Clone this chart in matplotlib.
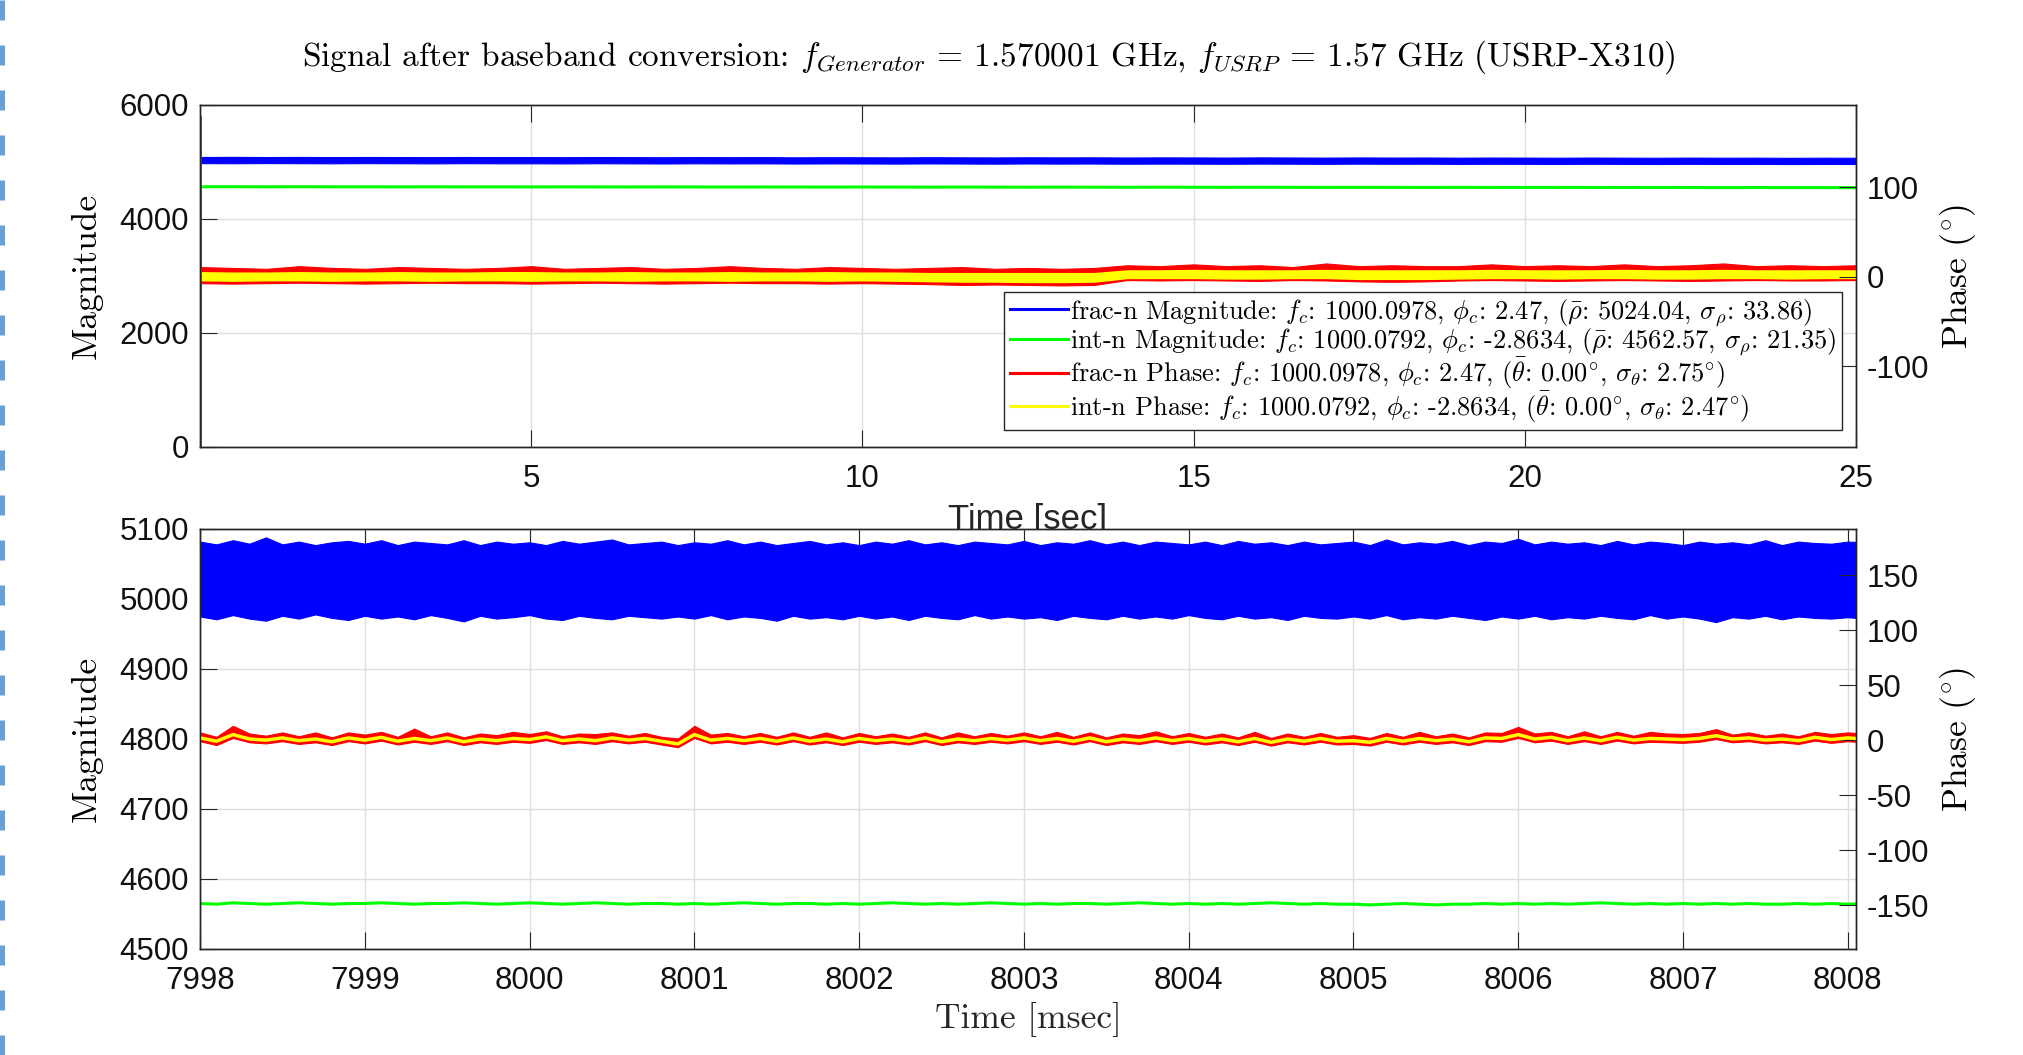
import numpy as np
import matplotlib
matplotlib.use('Agg')
import matplotlib.pyplot as plt
from matplotlib.lines import Line2D

plt.rcParams['mathtext.fontset'] = 'cm'
plt.rcParams['axes.unicode_minus'] = False
plt.rcParams['font.family'] = ['Liberation Sans', 'DejaVu Sans']

BLUE, GREEN, RED, YELLOW = '#0000ff', '#00ff00', '#ff0000', '#ffff00'
SERIF = 'cmr10'

# ---- top panel: 25 s overview, sampled every 0.5 s ----
t_top = np.arange(0, 25.01, 0.5)
blue_top_hi = [5088, 5090, 5087, 5089, 5086, 5088, 5087, 5085, 5088, 5086,
               5086, 5084, 5087, 5085, 5083, 5086, 5084, 5085, 5082, 5084,
               5083, 5081, 5084, 5082, 5080, 5083, 5081, 5082, 5079, 5081,
               5080, 5078, 5081, 5079, 5077, 5080, 5078, 5079, 5076, 5078,
               5077, 5075, 5078, 5076, 5074, 5077, 5075, 5076, 5073, 5075, 5074]
blue_top_lo = [4980, 4978, 4981, 4979, 4977, 4980, 4978, 4976, 4979, 4977,
               4977, 4975, 4978, 4976, 4974, 4977, 4975, 4976, 4973, 4975,
               4974, 4972, 4975, 4973, 4971, 4974, 4972, 4973, 4970, 4972,
               4971, 4969, 4972, 4970, 4968, 4971, 4969, 4970, 4967, 4969,
               4968, 4966, 4969, 4967, 4965, 4968, 4966, 4967, 4964, 4966, 4965]
green_top = [4566, 4566, 4565, 4566, 4565, 4565, 4564, 4565, 4564, 4564,
             4563, 4564, 4563, 4562, 4563, 4562, 4561, 4562, 4561, 4560,
             4561, 4560, 4559, 4560, 4559, 4558, 4559, 4558, 4557, 4558,
             4557, 4556, 4557, 4556, 4555, 4556, 4555, 4554, 4555, 4554,
             4553, 4554, 4553, 4552, 4553, 4552, 4551, 4552, 4551, 4551, 4550]
red_top_hi = [11, 10, 9, 12, 10, 9, 11, 10, 9, 10,
              12, 9, 10, 11, 9, 10, 12, 10, 9, 11,
              10, 9, 10, 11, 9, 10, 9, 10, 13, 12,
              14, 12, 13, 11, 15, 12, 13, 12, 12, 14,
              12, 13, 12, 14, 12, 13, 15, 12, 13, 12, 13]
red_top_lo = [-7, -7.5, -7, -6.5, -7, -7.5, -7, -6.5, -7, -7,
              -7.5, -7, -6.5, -7, -7.5, -7, -6.5, -7, -7, -7.5,
              -7, -7.5, -8, -9, -8.5, -9, -9.5, -9, -3.5, -4,
              -3.5, -4, -4.5, -3.5, -4, -5, -5.5, -5, -4, -3.5,
              -4, -4.5, -4, -3.5, -4, -4.5, -4, -3.5, -4, -4, -3.5]
yel_top_hi = [6, 5.5, 5.5, 6, 5.5, 5.5, 6, 5.5, 5.5, 6,
              6, 5.5, 5.5, 6, 5.5, 5.5, 6, 5.5, 5.5, 6,
              5.5, 5.5, 5, 5, 5, 5, 5, 5, 8, 8,
              8.5, 8, 8, 8, 8.5, 8, 8, 8, 8, 8.5,
              8, 8, 8, 8.5, 8, 8, 8.5, 8, 8, 8, 8]
yel_top_lo = [-4.5, -5, -4.5, -4.5, -5, -4.5, -4.5, -5, -4.5, -4.5,
              -5, -4.5, -4.5, -5, -4.5, -4.5, -5, -4.5, -4.5, -5,
              -4.5, -5, -5.5, -6, -6, -6.5, -6.5, -6, -2, -2,
              -2, -2.5, -2.5, -2, -2, -3, -3, -3, -2.5, -2,
              -2, -2.5, -2, -2, -2.5, -2.5, -2, -2, -2.5, -2, -2]
# start-up transient at t = 0
green_start = [0, 4566]
red_start = [179, -190]

# ---- bottom panel: 10 ms zoom, sampled every 0.1 ms ----
t_bot = 7998 + 0.1 * np.arange(102)
blue_bot_hi = [5082, 5078, 5084, 5079, 5088, 5078, 5082, 5077, 5081, 5083,
               5079, 5084, 5077, 5082, 5080, 5078, 5084, 5077, 5082, 5079,
               5081, 5077, 5083, 5079, 5082, 5085, 5078, 5080, 5082, 5077,
               5081, 5079, 5084, 5078, 5082, 5077, 5080, 5083, 5078, 5081,
               5077, 5082, 5079, 5084, 5078, 5081, 5077, 5082, 5080, 5078,
               5083, 5077, 5081, 5079, 5084, 5078, 5082, 5077, 5082, 5080,
               5078, 5082, 5077, 5083, 5079, 5081, 5077, 5082, 5078, 5080,
               5082, 5077, 5085, 5078, 5081, 5079, 5083, 5077, 5082, 5080,
               5086, 5078, 5082, 5079, 5081, 5077, 5083, 5078, 5082, 5080,
               5077, 5082, 5079, 5081, 5078, 5084, 5077, 5082, 5080, 5079,
               5082, 5081]
blue_bot_lo = [4975, 4971, 4977, 4972, 4969, 4976, 4972, 4978, 4973, 4970,
               4976, 4972, 4975, 4971, 4977, 4973, 4968, 4976, 4972, 4974,
               4977, 4972, 4970, 4976, 4973, 4971, 4976, 4974, 4972, 4975,
               4972, 4977, 4971, 4975, 4973, 4969, 4976, 4972, 4974, 4971,
               4976, 4972, 4975, 4970, 4976, 4973, 4971, 4977, 4972, 4975,
               4972, 4974, 4970, 4976, 4973, 4971, 4976, 4972, 4975, 4972,
               4977, 4973, 4971, 4976, 4972, 4974, 4970, 4976, 4973, 4972,
               4975, 4972, 4977, 4971, 4974, 4972, 4976, 4973, 4970, 4975,
               4972, 4976, 4971, 4974, 4972, 4976, 4973, 4971, 4977, 4972,
               4975, 4972, 4967, 4974, 4972, 4976, 4971, 4975, 4973, 4972,
               4974, 4972]
green_bot = [4565, 4564, 4566, 4565, 4564, 4565, 4566, 4565, 4564, 4565,
             4565, 4566, 4565, 4564, 4565, 4565, 4566, 4565, 4564, 4565,
             4566, 4565, 4564, 4565, 4566, 4565, 4564, 4565, 4565, 4564,
             4565, 4564, 4565, 4566, 4565, 4564, 4565, 4565, 4564, 4565,
             4564, 4565, 4566, 4565, 4564, 4565, 4564, 4565, 4566, 4565,
             4564, 4565, 4564, 4565, 4565, 4564, 4565, 4566, 4565, 4564,
             4565, 4564, 4565, 4564, 4565, 4566, 4565, 4564, 4565, 4564,
             4564, 4563, 4564, 4565, 4564, 4563, 4564, 4564, 4565, 4564,
             4565, 4564, 4565, 4564, 4565, 4566, 4565, 4564, 4565, 4564,
             4565, 4564, 4565, 4564, 4565, 4564, 4564, 4565, 4564, 4565,
             4564, 4565]
yel_bot = [2.0, -1.0, 5.0, 1.0, 0.0, 2.0, -0.5, 1.0, -1.5, 2.0,
           0.0, 2.5, -1.0, 1.5, -0.5, 2.0, -1.5, 1.0, -0.5, 1.5,
           0.5, 3.0, -0.5, 1.0, -0.5, 2.0, 0.0, 1.5, -1.0, -3.5,
           5.0, 0.0, 1.5, -0.5, 1.5, -1.0, 2.0, -1.0, 1.0, -1.5,
           1.5, -0.5, 1.0, -1.0, 2.0, -1.5, 1.0, -0.5, 1.5, 0.0,
           2.0, -0.5, 1.5, -1.0, 2.0, -1.5, 1.0, -0.5, 2.0, -0.5,
           1.5, -1.0, 1.0, -1.5, 1.5, -2.0, 1.0, -1.0, 1.5, -1.0,
           -0.5, -2.0, 1.5, -1.0, 1.5, -0.5, 1.0, -1.5, 2.0, 1.5,
           5.0, 1.0, 2.5, -0.5, 2.0, -0.5, 2.5, 0.0, 1.5, 1.0,
           0.5, 1.5, 4.0, 1.0, 2.0, 0.0, 1.0, -0.5, 2.5, 0.5,
           2.0, 1.0]
red_bot_hi = [7, 3, 13, 6, 4, 7, 3.5, 7, 2.5, 7,
              5, 7.5, 3, 10.5, 3.5, 7, 2.5, 6, 4.5, 7.5,
              5.5, 8, 3.5, 6, 5.5, 7, 4, 6.5, 3, 1.5,
              13, 5, 6.5, 3.5, 6.5, 3, 7, 3, 7, 2.5,
              6.5, 3.5, 6, 3, 7, 2.5, 7, 3.5, 6.5, 4,
              7, 3.5, 7.5, 3, 7, 2.5, 6, 4.5, 8, 3.5,
              6.5, 3, 6, 2.5, 7.5, 2, 6, 3, 6.5, 3,
              4.5, 2, 6.5, 3, 7.5, 3.5, 6, 2.5, 7, 6.5,
              12, 6, 7.5, 3.5, 8, 3.5, 7.5, 4, 7.5, 6,
              5.5, 6.5, 10, 5, 7, 4, 6, 3.5, 7.5, 5.5,
              7, 6]
red_bot_lo = [-1, -4.5, 2, -2, -3, -1, -3.5, -2, -4.5, -1,
              -3, -0.5, -4, -1.5, -3.5, -1, -4.5, -2, -3.5, -1.5,
              -2.5, 0, -3.5, -2, -3.5, -1, -3, -1.5, -4, -6.5,
              2, -3, -1.5, -3.5, -1.5, -4, -1, -4, -2, -4.5,
              -1.5, -3.5, -2, -4, -1, -4.5, -2, -3.5, -1.5, -3,
              -1, -3.5, -1.5, -4, -1, -4.5, -2, -3.5, -1, -3.5,
              -1.5, -4, -2, -4.5, -1.5, -5, -2, -4, -1.5, -4,
              -3.5, -5, -1.5, -4, -1.5, -3.5, -2, -4.5, -1, -1.5,
              2, -2, -0.5, -3.5, -1, -3.5, -0.5, -3, -1.5, -2,
              -2.5, -1.5, 1, -2, -1, -3, -2, -3.5, -0.5, -2.5,
              -1, -2]

legend_labels = [
    r'frac-n Magnitude: $f_c$: 1000.0978, $\phi_c$: 2.47, ($\bar{\rho}$: 5024.04, $\sigma_\rho$: 33.86)',
    r'int-n Magnitude: $f_c$: 1000.0792, $\phi_c$: -2.8634, ($\bar{\rho}$: 4562.57, $\sigma_\rho$: 21.35)',
    r'frac-n Phase: $f_c$: 1000.0978, $\phi_c$: 2.47, ($\bar{\theta}$: $0.00^{\circ}$, $\sigma_\theta$: $2.75^{\circ}$)',
    r'int-n Phase: $f_c$: 1000.0792, $\phi_c$: -2.8634, ($\bar{\theta}$: $0.00^{\circ}$, $\sigma_\theta$: $2.47^{\circ}$)',
]
title = r'Signal after baseband conversion: $f_{Generator}$ = 1.570001 GHz, $f_{USRP}$ = 1.57 GHz (USRP-X310)'

W, H = 2024, 1055
fig = plt.figure(figsize=(W / 100, H / 100), dpi=100)
ax1 = fig.add_axes([200 / W, 1 - 447 / H, 1656 / W, 342 / H])
ax1r = ax1.twinx()
ax2 = fig.add_axes([200 / W, 1 - 949 / H, 1656 / W, 420 / H])
ax2r = ax2.twinx()

# top
ax1.fill_between(t_top, blue_top_lo, blue_top_hi, color=BLUE, lw=0.8)
ax1.plot(t_top, green_top, color=GREEN, lw=2.2)
ax1.plot([0, 0], green_start, color=GREEN, lw=2)
ax1r.fill_between(t_top, red_top_lo, red_top_hi, color=RED, lw=0.8)
ax1r.fill_between(t_top, yel_top_lo, yel_top_hi, color=YELLOW, lw=0)
ax1r.plot([0, 0], red_start, color=RED, lw=2)

# bottom
ax2.fill_between(t_bot, blue_bot_lo, blue_bot_hi, color=BLUE, lw=0.8)
ax2.plot(t_bot, green_bot, color=GREEN, lw=2.2)
ax2r.fill_between(t_bot, red_bot_lo, red_bot_hi, color=RED, lw=0.8)
ax2r.plot(t_bot, yel_bot, color=YELLOW, lw=2.5)

ax1.set_xlim(0, 25)
ax1.set_xticks([5, 10, 15, 20, 25])
ax1.set_ylim(0, 6000)
ax1.set_yticks([0, 2000, 4000, 6000])
ax1r.set_ylim(-190, 192)
ax1r.set_yticks([-100, 0, 100])

ax2.set_xlim(7998, 8008.05)
ax2.set_xticks(np.arange(7998, 8009, 1))
ax2.set_ylim(4500, 5100)
ax2.set_yticks(np.arange(4500, 5101, 100))
ax2r.set_ylim(-190, 192)
ax2r.set_yticks(np.arange(-150, 151, 50))

for a in (ax1, ax2):
    a.grid(True, color='#dedede', lw=1)
    a.set_axisbelow(True)
    a.tick_params(axis='both', direction='in', length=12, width=0.8, color='#262626',
                  labelsize=22.5, labelcolor='#111111')
    a.tick_params(axis='x', top=True, pad=12)
    a.tick_params(axis='y', pad=8)
    a.set_ylabel('Magnitude', family=SERIF, size=25.5)
    a.yaxis.set_label_coords(-0.0586, 0.5)
for a in (ax1r, ax2r):
    a.tick_params(axis='y', direction='in', length=12, width=0.8, color='#262626',
                  labelsize=22.5, labelcolor='#111111', pad=7.5)
    a.set_ylabel(r'Phase $(^{\circ})$', family=SERIF, size=25.5)
    a.yaxis.set_label_coords(1.0495, 0.5)
for a in (ax1, ax1r, ax2, ax2r):
    for s in a.spines.values():
        s.set_color('#262626')
        s.set_linewidth(1)

ax1.set_xlabel('Time [sec]', size=25, color='#262626')
ax1.xaxis.set_label_coords(0.5, -0.1637)
ax2.set_xlabel('Time [msec]', family=SERIF, size=25.5, color='#262626')
ax2.xaxis.set_label_coords(0.5, -0.126)

handles = [Line2D([], [], color=c, lw=2.2) for c in (BLUE, GREEN, RED, YELLOW)]
leg = ax1r.legend(handles, legend_labels, loc='lower right', bbox_to_anchor=(0.9915, 0.0497),
                  borderaxespad=0, prop={'family': SERIF, 'size': 19}, frameon=True,
                  fancybox=False, edgecolor='#262626', framealpha=1, handlelength=2.2,
                  handletextpad=0.1, labelspacing=-0.06, borderpad=0.2)
leg.get_frame().set_linewidth(1)

fig.text(989 / W, 1 - 57 / H, title, ha='center', va='center', family=SERIF, size=24)

# dashed strip at the left edge of the page
fig.add_artist(Line2D([2.5 / W, 2.5 / W], [0, 1], transform=fig.transFigure,
                      color='#6a9fd4', lw=3.6, linestyle=(0, (4, 5))))

fig.savefig('out.png', dpi=100)
